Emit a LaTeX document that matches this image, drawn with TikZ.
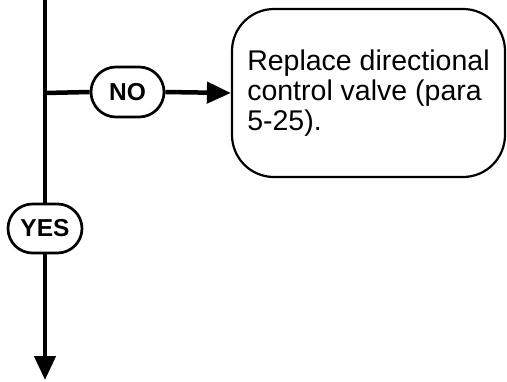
\documentclass[tikz,border=0pt]{standalone}
\usepackage{fontspec}
\setmainfont{Liberation Sans}
\usetikzlibrary{arrows.meta,shapes.misc}
\begin{document}
\begin{tikzpicture}[x=1pt,y=-1pt,
  flow/.style={line width=4.5pt},
  flowarrow/.style={line width=4.5pt,-{Triangle[length=24pt,width=21pt]}},
  pill/.style={draw,line width=2.7pt,rounded rectangle,minimum width=73pt,minimum height=50pt,inner sep=0pt,font=\fontsize{24.5}{26}\selectfont\bfseries,fill=white},
  actionbox/.style={draw,line width=2.2pt,rounded corners=42pt,minimum width=273pt,minimum height=168pt,align=left,inner sep=0pt,font=\fontsize{28.5}{30}\selectfont}
]
\useasboundingbox (0,0) rectangle (507,381);
\coordinate (top) at (45,0);
\coordinate (junc) at (45,93);
\coordinate (bottom) at (45,380);
\node[pill] (no) at (127.5,92) {NO};
\node[pill,minimum width=74pt,minimum height=49pt] (yes) at (45,228.5) {YES};
\node[actionbox] (box) at (368.5,93) {Replace directional\\control valve (para\\5-25).};
\draw[flow] (top) -- (yes.north);
\draw[flowarrow] (yes.south) -- (bottom);
\draw[flow] (junc) -- (no.west);
\draw[flowarrow] (no.east) -- (box.west);
\end{tikzpicture}
\end{document}
